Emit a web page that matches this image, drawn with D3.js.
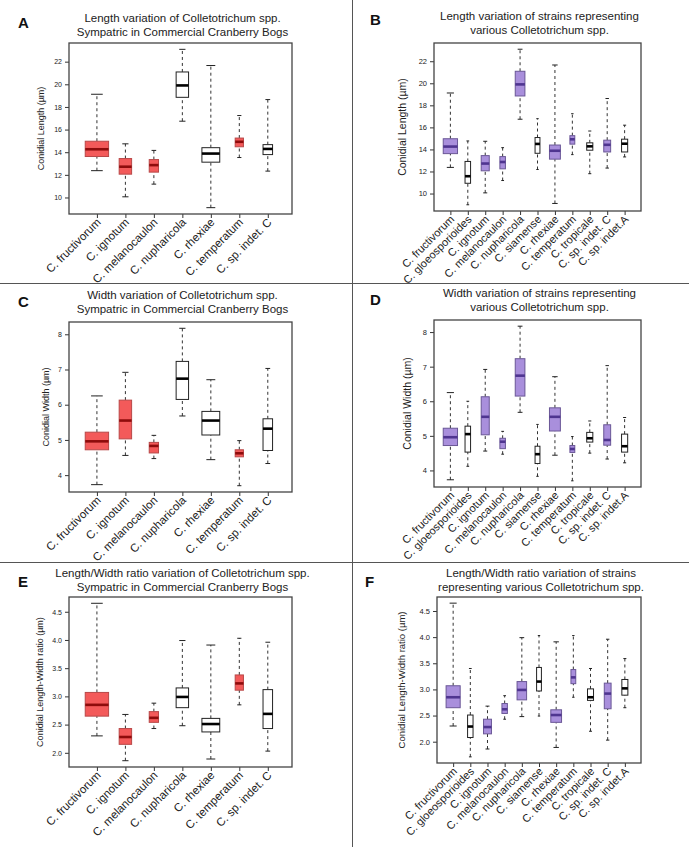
<!DOCTYPE html>
<html><head><meta charset="utf-8">
<script src="https://cdn.jsdelivr.net/npm/d3@7"></script>
<style>body{margin:0;background:#fff}svg{display:block}</style>
</head><body><svg id="c" width="689" height="847"></svg>
<script>
// ---------- DATA ----------
const sympatricSpecies = ["C. fructivorum","C. ignotum","C. melanocaulon","C. nupharicola","C. rhexiae","C. temperatum","C. sp. indet. C"];
const strainSpecies = ["C. fructivorum","C. gloeosporioides","C. ignotum","C. melanocaulon","C. nupharicola","C. siamense","C. rhexiae","C. temperatum","C. tropicale","C. sp. indet. C","C. sp. indet.A"];
const sympatricFilled = [true,true,true,false,false,true,false];
const strainFilled = [true,false,true,true,true,false,true,true,false,true,false];
// sample sizes (box widths proportional to sqrt(n))
const sympatricN = [120,34,19,34,70,15,20];
const strainN = [120,18,38,18,55,14,70,14,22,28,22];
// five-number summaries: [lower whisker, Q1, median, Q3, upper whisker]
const lengthSympatric = [[12.37,13.62,14.26,14.97,19.12],[10.06,12.06,12.72,13.44,14.74],[11.18,12.24,12.86,13.35,14.16],[16.74,18.85,19.9,21.09,23.09],[9.1,13.12,13.88,14.4,21.66],[13.53,14.48,14.92,15.25,17.24],[12.33,13.79,14.29,14.67,18.65]];
const lengthStrains = [[12.37,13.62,14.26,14.97,19.12],[8.98,10.93,11.57,12.91,14.77],[10.06,12.06,12.72,13.44,14.74],[11.18,12.24,12.86,13.35,14.16],[16.74,18.85,19.9,21.09,23.09],[12.18,13.65,14.5,15.08,16.79],[9.1,13.12,13.88,14.4,21.66],[13.53,14.48,14.92,15.25,17.24],[11.8,13.93,14.28,14.6,15.67],[12.31,13.77,14.42,14.84,18.62],[13.32,13.77,14.52,14.93,16.2]];
const widthSympatric = [[3.73,4.72,4.96,5.22,6.25],[4.56,5.03,5.55,6.13,6.92],[4.47,4.63,4.83,4.93,5.13],[5.68,6.15,6.74,7.23,8.17],[4.44,5.14,5.55,5.81,6.71],[3.70,4.52,4.62,4.72,4.98],[4.33,4.7,5.32,5.6,7.03]];
const widthStrains = [[3.73,4.72,4.96,5.22,6.25],[4.12,4.53,5.05,5.28,6.0],[4.56,5.03,5.55,6.13,6.92],[4.47,4.63,4.83,4.93,5.13],[5.68,6.15,6.74,7.23,8.17],[3.83,4.2,4.47,4.7,5.33],[4.44,5.14,5.55,5.81,6.71],[3.70,4.52,4.62,4.72,4.98],[4.5,4.82,4.93,5.1,5.43],[4.33,4.73,4.88,5.32,7.03],[4.22,4.53,4.7,5.05,5.53]];
const ratioSympatric = [[2.3,2.65,2.85,3.07,4.65],[1.86,2.15,2.28,2.43,2.68],[2.43,2.54,2.62,2.73,2.88],[2.48,2.8,2.99,3.15,3.99],[1.89,2.37,2.51,2.61,3.91],[2.85,3.11,3.23,3.38,4.03],[2.03,2.43,2.69,3.12,3.96]];
const ratioStrains = [[2.3,2.65,2.85,3.07,4.65],[1.71,2.08,2.29,2.51,3.4],[1.86,2.15,2.28,2.43,2.68],[2.43,2.54,2.62,2.73,2.88],[2.48,2.8,2.99,3.15,3.99],[2.49,2.97,3.15,3.42,4.03],[1.89,2.37,2.51,2.61,3.91],[2.85,3.11,3.23,3.38,4.03],[2.2,2.79,2.85,3.01,3.4],[2.03,2.63,2.92,3.12,3.96],[2.65,2.89,3.02,3.19,3.59]];
const lengthTicks = [10,12,14,16,18,20,22];
const widthTicks = [4,5,6,7,8];
const ratioTicks = [2.0,2.5,3.0,3.5,4.0,4.5];

// ---------- STYLE / LAYOUT ----------
const FONT = "'Liberation Sans', Arial, Helvetica, sans-serif";
const RED = {fill:"#f35a5a", stroke:"#b84848", median:"#8e0c0c"};
const PURPLE = {fill:"#a98fdc", stroke:"#6a5796", median:"#4f3590"};
const WHITE = {fill:"#ffffff", stroke:"#222", median:"#000"};

const svg = d3.select("#c").style("font-family", FONT);

const SYM = {xpadL:0.98, xpadR:0.85, xfs:11.5, yfs:9, tfs:7};
const STR = {xpadL:0.94, xpadR:0.94, xfs:11, yfs:10.5, tfs:7.5};

const panels = [
  Object.assign({letter:"A", lx:18, ly:28, title:["Length variation of Colletotrichum spp.","Sympatric in Commercial Cranberry Bogs"], ty:22,
   ylab:"Conidial Length (\u00b5m)", species:sympatricSpecies, filled:sympatricFilled, col:RED, n:sympatricN, stats:lengthSympatric, ticks:lengthTicks, fmt:d3.format("d"),
   x0:69, x1:292, y0:43, y1:214, ylabX:44}, SYM),
  Object.assign({letter:"B", lx:370, ly:25, title:["Length variation of strains representing","various Colletotrichum spp."], ty:20,
   ylab:"Conidial Length (\u00b5m)", species:strainSpecies, filled:strainFilled, col:PURPLE, n:strainN, stats:lengthStrains, ticks:lengthTicks, fmt:d3.format("d"),
   x0:434, x1:641, y0:43, y1:211, ylabX:406}, STR),
  Object.assign({letter:"C", lx:18, ly:307, title:["Width variation of Colletotrichum spp.","Sympatric in Commercial Cranberry Bogs"], ty:299,
   ylab:"Conidial Width (\u00b5m)", species:sympatricSpecies, filled:sympatricFilled, col:RED, n:sympatricN, stats:widthSympatric, ticks:widthTicks, fmt:d3.format("d"),
   x0:69, x1:292, y0:322, y1:492, ylabX:49}, SYM),
  Object.assign({letter:"D", lx:370, ly:305, title:["Width variation of strains representing","various Colletotrichum spp."], ty:297,
   ylab:"Conidial Width (\u00b5m)", species:strainSpecies, filled:strainFilled, col:PURPLE, n:strainN, stats:widthStrains, ticks:widthTicks, fmt:d3.format("d"),
   x0:434, x1:641, y0:320, y1:487, ylabX:411}, STR),
  Object.assign({letter:"E", lx:18, ly:587, title:["Length/Width ratio variation of Colletotrichum spp.","Sympatric in Commercial Cranberry Bogs"], ty:577,
   ylab:"Conidial Length-Width ratio (\u00b5m)", species:sympatricSpecies, filled:sympatricFilled, col:RED, n:sympatricN, stats:ratioSympatric, ticks:ratioTicks, fmt:d3.format(".1f"),
   x0:69, x1:292, y0:597, y1:767, ylabX:43}, SYM),
  Object.assign({letter:"F", lx:365, ly:587, title:["Length/Width ratio variation of strains","representing various Colletotrichum spp."], ty:577,
   ylab:"Conidial Length-Width ratio (\u00b5m)", species:strainSpecies, filled:strainFilled, col:PURPLE, n:strainN, stats:ratioStrains, ticks:ratioTicks, fmt:d3.format(".1f"),
   x0:437, x1:641, y0:597, y1:763, ylabX:405}, STR, {yfs:9.5})
];

// separators
svg.append("line").attr("x1",352.5).attr("x2",352.5).attr("y1",0).attr("y2",847).attr("stroke","#555").attr("stroke-width",1);
[283.5,562.5].forEach(yy=>svg.append("line").attr("x1",0).attr("x2",689).attr("y1",yy).attr("y2",yy).attr("stroke","#555").attr("stroke-width",1));

panels.forEach(drawPanel);

function drawPanel(p){
  const g = svg.append("g");
  const k = p.species.length;
  const x = d3.scaleLinear().domain([1-p.xpadL, k+p.xpadR]).range([p.x0,p.x1]);
  const lo = d3.min(p.stats, d=>d[0]), hi = d3.max(p.stats, d=>d[4]);
  const pad = (hi-lo)*0.04;
  const y = d3.scaleLinear().domain([lo-pad, hi+pad]).range([p.y1,p.y0]);
  const step = x(2)-x(1);
  const maxSq = d3.max(p.n, v=>Math.sqrt(v));

  // letter and titles
  g.append("text").attr("x",p.lx).attr("y",p.ly).attr("font-size",15).attr("font-weight","bold").attr("fill","#111").text(p.letter);
  const cx = (p.x0+p.x1)/2 + 2;
  p.title.forEach((t,i)=>g.append("text").attr("x",cx).attr("y",p.ty+i*14).attr("text-anchor","middle")
    .attr("font-size",11.5).attr("fill","#222").text(t));

  // y label
  g.append("text").attr("transform",`translate(${p.ylabX},${(p.y0+p.y1)/2}) rotate(-90)`)
    .attr("text-anchor","middle").attr("font-size",p.yfs).attr("fill","#222").text(p.ylab);

  // axes
  const ya = g.append("g").attr("transform",`translate(${p.x0},0)`)
    .call(d3.axisLeft(y).tickValues(p.ticks).tickFormat(p.fmt).tickSize(4).tickPadding(3));
  ya.select(".domain").remove();
  ya.selectAll("text").attr("font-size",p.tfs).attr("fill","#222").attr("font-family",FONT);
  ya.selectAll("line").attr("stroke","#333");

  const xa = g.append("g").attr("transform",`translate(0,${p.y1})`)
    .call(d3.axisBottom(x).tickValues(d3.range(1,k+1)).tickFormat(i=>p.species[i-1]).tickSize(4));
  xa.select(".domain").remove();
  xa.selectAll("line").attr("stroke","#333");
  xa.selectAll("text").attr("font-size",p.xfs).attr("fill","#222").attr("font-family",FONT)
    .attr("text-anchor","end").attr("dy",null).attr("y",null)
    .attr("transform","translate(4,9) rotate(-45)");

  // boxes
  p.stats.forEach((s,i)=>{
    const c = x(i+1);
    const w = 0.82*step*Math.sqrt(p.n[i])/maxSq;
    const col = p.filled[i] ? p.col : WHITE;
    const bg = g.append("g");
    [[s[0],s[1]],[s[3],s[4]]].forEach(([a,b])=>bg.append("line").attr("x1",c).attr("x2",c).attr("y1",y(a)).attr("y2",y(b))
      .attr("stroke","#333").attr("stroke-width",1).attr("stroke-dasharray","3,3"));
    [s[0],s[4]].forEach(v=>bg.append("line").attr("x1",c-w/4).attr("x2",c+w/4).attr("y1",y(v)).attr("y2",y(v))
      .attr("stroke","#222").attr("stroke-width",1));
    bg.append("rect").attr("x",c-w/2).attr("width",w).attr("y",y(s[3])).attr("height",y(s[1])-y(s[3]))
      .attr("fill",col.fill).attr("stroke",col.stroke).attr("stroke-width",1);
    bg.append("line").attr("x1",c-w/2).attr("x2",c+w/2).attr("y1",y(s[2])).attr("y2",y(s[2]))
      .attr("stroke",col.median).attr("stroke-width",2.6);
  });

  // frame
  g.append("rect").attr("x",p.x0).attr("y",p.y0).attr("width",p.x1-p.x0).attr("height",p.y1-p.y0)
    .attr("fill","none").attr("stroke","#444").attr("stroke-width",1.3);
}
</script></body></html>
